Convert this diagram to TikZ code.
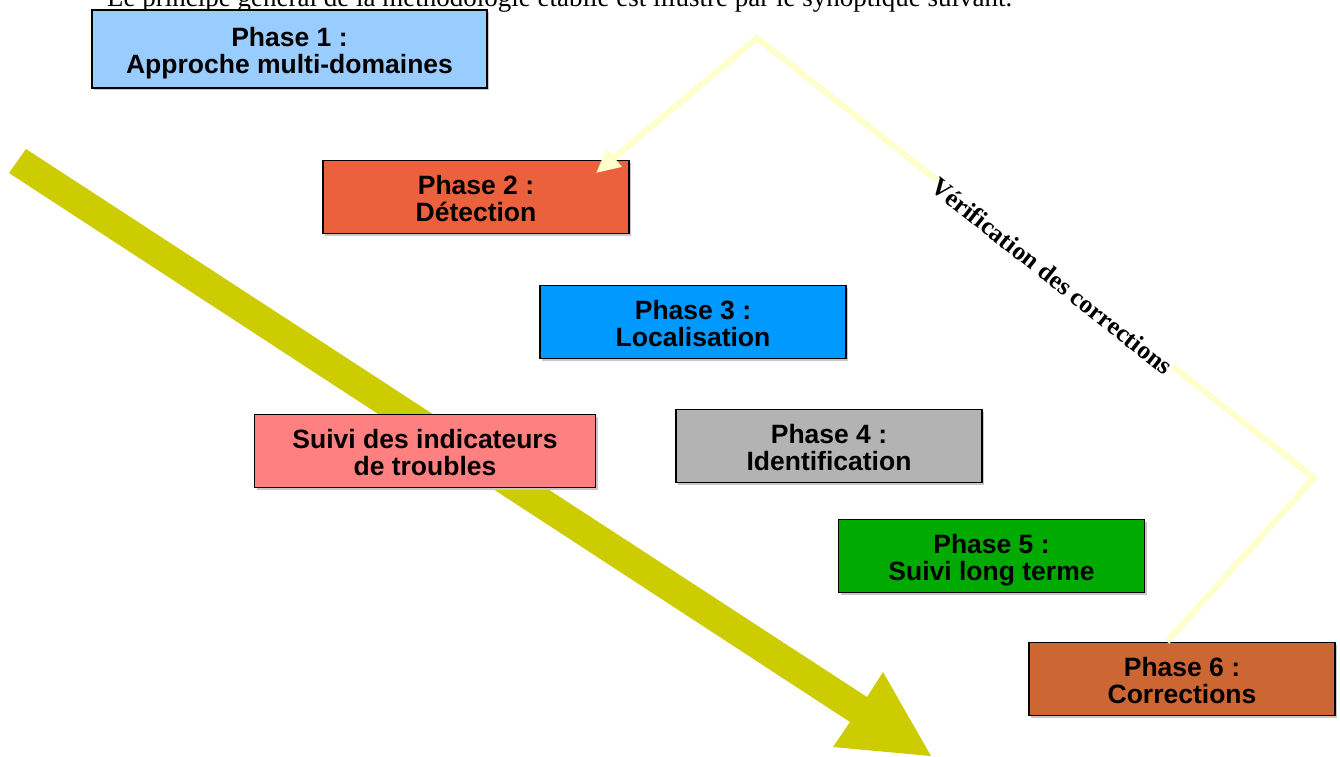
\documentclass[tikz,border=0pt]{standalone}
\usepackage{fontspec}
\setmainfont{Liberation Serif}
\newfontfamily\boxfont{Liberation Sans}
\usetikzlibrary{arrows.meta,shadows}

\definecolor{phaseA}{HTML}{99CCFF}
\definecolor{phaseB}{HTML}{EB613D}
\definecolor{phaseC}{HTML}{0099FF}
\definecolor{phaseD}{HTML}{B3B3B3}
\definecolor{phaseE}{HTML}{00AA00}
\definecolor{phaseF}{HTML}{CC6633}
\definecolor{monitor}{HTML}{FF8080}
\definecolor{flowarrow}{HTML}{CCCC00}
\definecolor{feedback}{HTML}{FFFFCC}

\begin{document}
\begin{tikzpicture}[x=1pt,y=-1pt,
  phase/.style={draw=black, line width=1.8pt, minimum width=306pt,
    minimum height=73pt, inner sep=0pt, align=center,
    text height=49pt, text depth=0pt,
    font=\boxfont\bfseries\fontsize{26.5}{27}\selectfont,
    general shadow={fill=black!22, shadow xshift=2pt, shadow yshift=-2pt}},
  bigarrow/.style={fill=flowarrow},
  loopline/.style={draw=feedback, line width=6pt,
    -{Triangle[length=24pt,width=22pt]}},
  looplabel/.style={rotate=-38.4, fill=white, inner sep=0.5pt,
    font=\bfseries\fontsize{25.5}{25.5}\selectfont}
]
\useasboundingbox (0,0) rectangle (1340,756);
\clip (0,0) rectangle (1340,756);
\fill[white] (0,0) rectangle (1340,756);

% introductory sentence, cut at the top of the page
\node[anchor=base west, inner sep=0pt, font=\fontsize{27}{30}\selectfont]
  (intro) at (107,6) {Le principe général de la méthodologie établie est illustré par le synoptique suivant.};

% wide diagonal arrow behind the boxes
\fill[bigarrow] (9,173) -- (26,149) -- (867,697) -- (883,672) -- (931,756)
  -- (833,747) -- (850,722) -- cycle;

% phases
\node[phase, fill=phaseA, minimum width=395pt, minimum height=78pt] (p1) at (289.5,49)
  {Phase 1 :\\Approche multi-domaines};
\node[phase, fill=phaseB] (p2) at (476,197) {Phase 2 :\\Détection};
\node[phase, fill=phaseC] (p3) at (693,322) {Phase 3 :\\Localisation};
\node[phase, fill=monitor, minimum width=341pt] (mon) at (425,451)
  {Suivi des indicateurs\\de troubles};
\node[phase, fill=phaseD] (p4) at (829,446) {Phase 4 :\\Identification};
\node[phase, fill=phaseE] (p5) at (991.5,556) {Phase 5 :\\Suivi long terme};
\node[phase, fill=phaseF] (p6) at (1182,679) {Phase 6 :\\Corrections};

% feedback loop from the corrections back to detection
\coordinate (fbStart) at ([xshift=-15pt]p6.north);
\coordinate (fbRight) at (1314,478);
\coordinate (fbTop) at (757,38);
\coordinate (fbEnd) at ([xshift=-34pt,yshift=-13.5pt]p2.north east);
\draw[loopline] (fbStart) -- (fbRight) -- (fbTop) -- (fbEnd);
\node[looplabel] (verif) at (1052,276) {Vérification des corrections};
\end{tikzpicture}
\end{document}
